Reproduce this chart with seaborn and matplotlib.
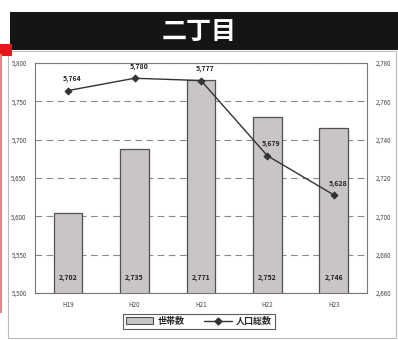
import matplotlib
matplotlib.use("Agg")
import matplotlib.pyplot as plt
import seaborn as sns
import pandas as pd
from matplotlib.patches import Rectangle
from matplotlib.lines import Line2D

categories = ["H19", "H20", "H21", "H22", "H23"]
households = [2702, 2735, 2771, 2752, 2746]   # 世帯数 (right axis)
population = [5764, 5780, 5777, 5679, 5628]   # 人口総数 (left axis)
left_ticks = [5500, 5550, 5600, 5650, 5700, 5750, 5800]
right_ticks = [2660, 2680, 2700, 2720, 2740, 2760, 2780]
title = "二丁目"
legend_labels = ["世帯数", "人口総数"]

sns.set_theme(style="white")
plt.rcParams['font.family'] = ['Noto Sans CJK JP', 'DejaVu Sans']

df = pd.DataFrame({"cat": categories, "hh": households, "pop": population})

fig = plt.figure(figsize=(3.98, 3.40), dpi=100)
fig.patch.set_facecolor("white")

# outer frame and accents
fig.patches.append(Rectangle((0.02, 0.005), 0.975, 0.845, transform=fig.transFigure,
                             fill=False, edgecolor="#bbbbbb", linewidth=0.8, zorder=0))
fig.patches.append(Rectangle((0.025, 0.853), 0.975, 0.112, transform=fig.transFigure,
                             facecolor="#151515", edgecolor="none", zorder=1))
fig.patches.append(Rectangle((0.0, 0.835), 0.03, 0.035, transform=fig.transFigure,
                             facecolor="#e8141c", edgecolor="none", zorder=2))
fig.patches.append(Rectangle((0.0, 0.08), 0.006, 0.76, transform=fig.transFigure,
                             facecolor="#f08080", edgecolor="none", zorder=2))
fig.text(0.5, 0.905, title, color="white", fontsize=18, fontweight="bold",
         ha="center", va="center")

ax = fig.add_axes([0.088, 0.138, 0.834, 0.677])
sns.barplot(data=df, x="cat", y="hh", ax=ax, color="#c9c5c5", width=0.43,
            edgecolor="#505050", linewidth=0.9, saturation=1)
ax.set_ylim(right_ticks[0], right_ticks[-1])
ax.set_axisbelow(True)
ax.yaxis.grid(True, linestyle=(0, (6, 4)), color="#888888", linewidth=0.8)
ax.set_xlabel("")
ax.set_ylabel("")
for s in ax.spines.values():
    s.set_color("#777777")
    s.set_linewidth(0.8)

for i, v in enumerate(households):
    ax.annotate(f"{v:,}", xy=(i, right_ticks[0]), xytext=(0, 11),
                textcoords="offset points", ha="center", va="center",
                fontsize=5, fontweight="bold", color="#222")

ax2 = ax.twinx()
sns.pointplot(data=df, x="cat", y="pop", ax=ax2, color="#333333", markers="D",
              markersize=3.5, linewidth=1.0, errorbar=None)
ax2.set_ylim(left_ticks[0], left_ticks[-1])
ax2.set_yticks(left_ticks)
ax2.set_yticklabels([f"{v:,}" for v in left_ticks], fontsize=4.5, color="#444")
ax2.yaxis.tick_left()
ax2.yaxis.set_label_position("left")
ax2.tick_params(axis="y", length=0, pad=6)
ax2.set_xlim(-0.5, len(categories) - 0.5)
ax.set_xlim(-0.5, len(categories) - 0.5)
ax2.set_xlabel("")
ax2.set_ylabel("")
for s in ax2.spines.values():
    s.set_visible(False)
for i, v in enumerate(population):
    ax2.annotate(f"{v:,}", xy=(i, v), xytext=(3, 6), textcoords="offset points",
                 ha="center", va="bottom", fontsize=5, fontweight="bold", color="#222")

# right axis ticks for the bars (set after twinx, which resets tick side)
ax.yaxis.tick_right()
ax.set_yticks(right_ticks)
ax.set_yticklabels([f"{v:,}" for v in right_ticks], fontsize=4.5, color="#444")
ax.tick_params(axis="y", length=0, pad=6, labelleft=False, labelright=True)
ax.tick_params(axis="x", labelsize=4.5, colors="#444", length=0, pad=6)

handles = [Rectangle((0, 0), 1, 1, facecolor="#c9c5c5", edgecolor="#505050", linewidth=0.8),
           Line2D([0], [0], color="#333333", marker="D", markersize=3.5, linewidth=1.0)]
leg = fig.legend(handles, legend_labels, loc="center", bbox_to_anchor=(0.5, 0.055),
                 ncol=2, fontsize=6.5, frameon=True, fancybox=False, edgecolor="#333333",
                 handlelength=3.0, handleheight=0.8, columnspacing=2.2,
                 borderpad=0.35, handletextpad=0.5, borderaxespad=0)
leg.get_frame().set_linewidth(0.8)
for t in leg.get_texts():
    t.set_fontweight("bold")

fig.savefig("out.png", dpi=100, facecolor="white")
